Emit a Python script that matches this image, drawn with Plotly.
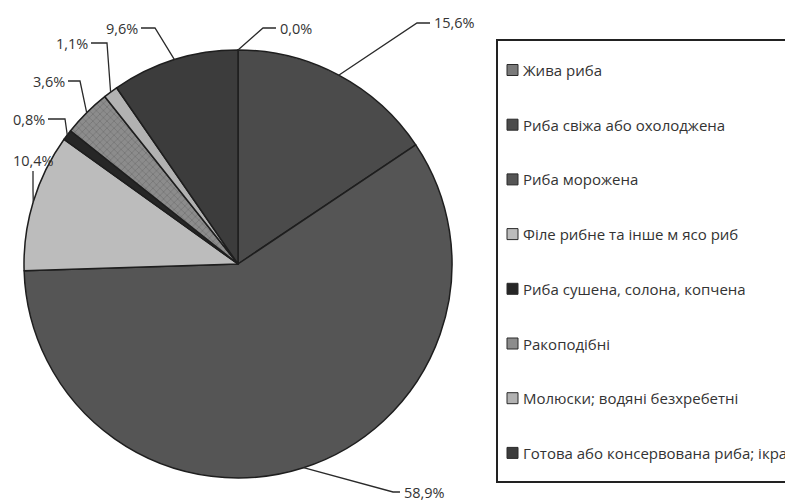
import math
import plotly.graph_objects as go

# ---------------- data ----------------
categories = [
    "Жива риба",
    "Риба свіжа або охолоджена",
    "Риба морожена",
    "Філе рибне та інше м ясо риб",
    "Риба сушена, солона, копчена",
    "Ракоподібні",
    "Молюски; водяні безхребетні",
    "Готова або консервована риба; ікра",
]
shares = [0.0, 15.6, 58.9, 10.4, 0.8, 3.6, 1.1, 9.6]

# ---------------- styles ----------------
slice_colors = ["#7a7a7a", "#4b4b4b", "#555555", "#bcbcbc",
                "#262626", "#8c8c8c", "#b2b2b2", "#3c3c3c"]
OFF = 8                              # page body margin
W, H = 793 - OFF, 503 - OFF
CX, CY, R = 238, 264, 214            # pie centre / radius in screen pixels
TEXT = "#333333"
FONT = "Open Sans"

def px(x):
    return (x - OFF) / W

def py(y):
    return 1 - (y - OFF) / H

# leader-line elbows and label anchors (screen pixels)
label_layout = [
    ([(263, 28), (276, 28)], 278, 28, "left"),
    ([(417, 23), (430, 23)], 432, 23, "left"),
    ([(393, 492), (400, 492)], 402, 492, "left"),
    ([(33, 190), (33, 171)], 33, 160, "center"),
    ([(65, 119), (48, 119)], 47, 119, "right"),
    ([(80, 81), (68, 81)], 67, 81, "right"),
    ([(107, 43), (91, 43)], 90, 43, "right"),
    ([(155, 28), (141, 28)], 140, 28, "right"),
]

fig = go.Figure()
fig.add_trace(go.Pie(
    labels=categories,
    values=shares,
    sort=False,
    direction="clockwise",
    rotation=0,
    textinfo="none",
    hoverinfo="label+percent",
    showlegend=False,
    marker=dict(
        colors=slice_colors,
        line=dict(color="#1e1e1e", width=1.5),
        pattern=dict(
            shape=["", "", "", "", "", "x", "", ""],
            fgcolor="#6a6a6a",
            bgcolor=slice_colors,
            size=5,
            solidity=0.2,
        ),
    ),
    domain=dict(x=[px(CX - R), px(CX + R)], y=[py(CY + R), py(CY - R)]),
))

shapes = []
annotations = []

# labels + leader lines, edge points computed from the data
total = sum(shares)
cum = 0.0
for val, (elbows, tx, ty, anchor) in zip(shares, label_layout):
    mid = (cum + val / 2) / total * 2 * math.pi
    cum += val
    ex = CX + R * math.sin(mid)
    ey = CY - R * math.cos(mid)
    pts = [(ex, ey)] + elbows
    path = "M " + " L ".join(f"{px(a):.5f},{py(b):.5f}" for a, b in pts)
    shapes.append(dict(type="path", xref="paper", yref="paper", path=path,
                       line=dict(color="#2a2a2a", width=1.3)))
    annotations.append(dict(
        x=px(tx), y=py(ty), xref="paper", yref="paper",
        text=f"{val:.1f}".replace(".", ",") + "%",
        showarrow=False, xanchor=anchor, yanchor="middle",
        font=dict(family=FONT, size=14.5, color=TEXT),
    ))

# legend box (drawn manually to match item spacing)
shapes.append(dict(type="rect", xref="paper", yref="paper",
                   x0=px(497), x1=px(805), y0=py(482), y1=py(40),
                   line=dict(color="#222222", width=2), fillcolor="rgba(0,0,0,0)"))
legend_top, legend_step = 70, 54.7
for i, (name, col) in enumerate(zip(categories, slice_colors)):
    yc = legend_top + i * legend_step
    shapes.append(dict(type="rect", xref="paper", yref="paper",
                       x0=px(507), x1=px(518), y0=py(yc + 5.5), y1=py(yc - 5.5),
                       line=dict(color="#2a2a2a", width=1), fillcolor=col))
    annotations.append(dict(
        x=px(521), y=py(yc), xref="paper", yref="paper", text=name,
        showarrow=False, xanchor="left", yanchor="middle",
        font=dict(family=FONT, size=15, color=TEXT),
    ))

fig.update_layout(
    width=W, height=H,
    margin=dict(l=0, r=0, t=0, b=0),
    paper_bgcolor="white", plot_bgcolor="white",
    shapes=shapes, annotations=annotations,
)

fig.write_html("out.html")
